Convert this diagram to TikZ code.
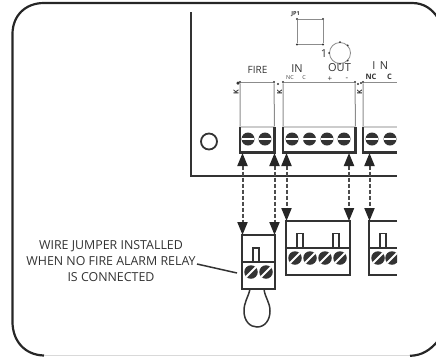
\documentclass[tikz,border=0pt]{standalone}
\usepackage{fontspec}
\setmainfont{Open Sans}
\usepackage{tikz}
\usetikzlibrary{arrows.meta}
\tikzset{
  hscrew/.style={circle,fill=black!80,inner sep=0pt,minimum size=13pt,
    path picture={\draw[white,line width=1.2pt] (path picture bounding box.west) -- (path picture bounding box.east);}},
  dscrew/.style={circle,fill=black!80,inner sep=0pt,minimum size=13.5pt,
    path picture={\draw[white,line width=1.8pt] (path picture bounding box.south west) -- (path picture bounding box.north east);}},
  dotpin/.style={circle,fill=black!80,inner sep=0pt,minimum size=2.4pt},
  wire/.style={draw=black!45,line width=1pt},
  plug/.style={draw=black!80,line width=2.2pt},
  tinylbl/.style={font=\fontsize{5.5}{5.5}\selectfont,text=black!75,inner sep=0pt},
  boldlbl/.style={font=\bfseries\fontsize{5.5}{5.5}\selectfont,text=black!80,inner sep=0pt},
  lbl/.style={font=\fontsize{11}{11}\selectfont,text=black!80,inner sep=0pt},
  link/.style={black!70,line width=2pt,dash pattern=on 4pt off 2pt,
    {Triangle[length=13pt,width=10pt,black!85]}-{Triangle[length=13pt,width=10pt,black!85]}}
}
\begin{document}
\begin{tikzpicture}[x=1pt,y=-1pt]
\useasboundingbox (0,0) rectangle (436,357);
\clip (0,0) rectangle (436,357);
% outer frame
\draw[black!85,line width=2.2pt] (44,355.5) .. controls (24,355) and (12.5,340) .. (12.5,322) -- (12.5,34) .. controls (12.5,16) and (25,3) .. (44,3) -- (412,3) .. controls (424,3) and (432,9) .. (438,18);
\draw[black!15,line width=1pt] (44,355.8) -- (410,355.8);
\draw[black!85,line width=2.2pt] (410,355.8) .. controls (422,355.5) and (430,350) .. (437,342);
% board
\coordinate (b1) at (191,12);
\coordinate (b2) at (191,175.5);
\coordinate (b3) at (397,175.5);
\draw[black!80,line width=2pt] (b1) -- (b2) -- (b3);
\node[circle,draw=black!80,line width=1.8pt,minimum size=16pt,inner sep=0pt] (hole) at (209,141.5) {};
% jumper square and ring
\node[dotpin] (q1) at (297,19) {};
\node[dotpin] (q2) at (323,19) {};
\node[dotpin] (q3) at (323,44.5) {};
\node[dotpin] (q4) at (297,44.5) {};
\draw[wire] (q1) -- (q2) -- (q3) -- (q4) -- (q1);
\node[circle,draw=black!45,line width=0.8pt,minimum size=21pt,inner sep=0pt] (ring) at (340,53) {};
\node[dotpin,minimum size=2pt] (r1) at (ring.west) {};
\node[dotpin,minimum size=2pt] (r2) at (ring.north) {};
\node[dotpin,minimum size=2pt] (r3) at (ring.south) {};
\node[dotpin,minimum size=2pt] (r4) at (ring.north east) {};
\node[dotpin,minimum size=2pt] (r5) at (ring.south east) {};
\node[boldlbl] (jp) at (295.5,14.5) {JP1};
\node[lbl] (one) at (324,54) {1};
% board labels
\node[lbl,font=\fontsize{10}{10}\selectfont] (fire) at (257.5,70) {FIRE};
\node[lbl] (in) at (297,69) {IN};
\node[lbl] (out) at (339.5,68) {OUT};
\node[tinylbl] (nc) at (290,77.5) {NC};
\node[tinylbl] (c) at (304,77.5) {C};
\node[lbl,font=\fontsize{8}{8}\selectfont] (plus) at (330,79) {+};
\node[lbl,font=\fontsize{8}{8}\selectfont] (minus) at (347,79) {-};
\node[boldlbl,font=\bfseries\fontsize{7.5}{7.5}\selectfont] (nc2) at (371,77) {NC};
\node[boldlbl,font=\bfseries\fontsize{7.5}{7.5}\selectfont] (c2) at (389.5,77) {C};
\node[lbl] (i2) at (374,66) {I};
\node[lbl] (n2) at (384,66) {N};
% header outlines
\node[dotpin] (f1) at (240,82) {};
\node[dotpin] (f2) at (274,82) {};
\node[dotpin] (f3) at (283,82) {};
\node[dotpin] (f4) at (355,82) {};
\node[dotpin] (f5) at (363,82) {};
\coordinate (f6) at (397,82);
\draw[wire] (f1) -- (f2) (f3) -- (f4) (f5) -- (f6);
\node[boldlbl,rotate=90,font=\bfseries\fontsize{7}{7}\selectfont] (k1) at (236,92) {K};
\node[boldlbl,rotate=90,font=\bfseries\fontsize{7}{7}\selectfont] (k2) at (279.5,92) {K};
\node[boldlbl,rotate=90,font=\bfseries\fontsize{7}{7}\selectfont] (k3) at (359.5,92) {K};
\node[dotpin,minimum size=3.5pt] (d1) at (238,83) {};
\node[dotpin] (d2) at (278,84) {};
\node[dotpin] (d3) at (358,84) {};
\node[dotpin] (d4) at (361,83) {};
% terminal blocks on the board
\coordinate (t1a) at (240,127);
\coordinate (t1b) at (240,152.5);
\coordinate (t1c) at (274.5,152.5);
\coordinate (t1d) at (274.5,127);
\coordinate (t2a) at (283,127);
\coordinate (t2b) at (283,152.5);
\coordinate (t2c) at (355.5,152.5);
\coordinate (t2d) at (355.5,127);
\coordinate (t3a) at (363,127);
\coordinate (t3b) at (363,152.5);
\coordinate (t3c) at (397,152.5);
\coordinate (t3d) at (397,127);
\draw[wire] (f1) -- (t1a) (f2) -- (t1d) (f3) -- (t2a) (f4) -- (t2d) (f5) -- (t3a);
\draw[black!20,line width=1.4pt] (t1a) -- (t1d) (t2a) -- (t2d) (t3a) -- (t3d);
\draw[plug] (t1a) -- (t1b) -- (t1c) -- (t1d);
\draw[plug] (t2a) -- (t2b) -- (t2c) -- (t2d);
\draw[plug] (t3a) -- (t3b) -- (t3c);
\begin{scope}
\clip (230,120) rectangle (397,160);
\node[hscrew] (s1) at (248,139) {};
\node[hscrew] (s2) at (265,139) {};
\node[hscrew] (s3) at (292,139) {};
\node[hscrew] (s4) at (309.5,139) {};
\node[hscrew] (s5) at (327,139) {};
\node[hscrew] (s6) at (344,139) {};
\node[hscrew] (s7) at (372,139) {};
\node[hscrew] (s8) at (390,139) {};
\end{scope}
% jumper plug
\node[draw=black!80,line width=2.2pt,minimum width=33pt,minimum height=54pt,inner sep=0pt] (p1) at (258.5,262) {};
\draw[plug] (p1.west) -- (p1.east);
\draw[black!80,line width=1.5pt] (253,262) -- (253,248) -- (259,248) -- (259,262);
\node[dscrew] (u1) at (251,272) {};
\node[dscrew] (u2) at (266,272) {};
\draw[black!80,line width=1.5pt] (250,289) .. controls (248,298) and (244,302) .. (244,311) .. controls (244,321) and (250,327) .. (257,327) .. controls (265,327) and (270,320) .. (270,311) .. controls (270,302) and (265,298) .. (264,289);
% middle plug
\node[draw=black!80,line width=2.2pt,minimum width=64pt,minimum height=54pt,inner sep=0pt] (p2) at (318,248) {};
\draw[plug] (p2.west) -- (p2.east);
\draw[black!80,line width=1.5pt] (297,248) -- (297,233.5) -- (303,233.5) -- (303,248);
\draw[black!80,line width=1.5pt] (333,248) -- (333,233.5) -- (339,233.5) -- (339,248);
\node[dscrew] (v1) at (295,258) {};
\node[dscrew] (v2) at (310,258) {};
\node[dscrew] (v3) at (325,258) {};
\node[dscrew] (v4) at (340,258) {};
% right plug, cut off
\begin{scope}
\clip (360,200) rectangle (397,290);
\draw[plug] (397,221) -- (369,221) -- (369,275) -- (397,275);
\draw[plug] (369,248) -- (397,248);
\draw[black!80,line width=1.5pt] (380,248) -- (380,233.5) -- (386,233.5) -- (386,248);
\node[dscrew] (w1) at (378,258) {};
\node[dscrew] (w2) at (392,258) {};
\end{scope}
% dashed links
\coordinate (a1) at (242.5,153);
\coordinate (a2) at (274.5,153);
\coordinate (a3) at (286.5,153);
\coordinate (a4) at (349,153);
\coordinate (a5) at (369.5,153);
\coordinate (e1) at (242.5,235);
\coordinate (e2) at (274.5,235);
\coordinate (e3) at (286.5,221);
\coordinate (e4) at (349,221);
\coordinate (e5) at (369.5,221);
\draw[link] (a1) -- (e1);
\draw[link] (a2) -- (e2);
\draw[link] (a3) -- (e3);
\draw[link] (a4) -- (e4);
\draw[link] (a5) -- (e5);
% callout
\node[align=center,font=\fontsize{12.4}{16}\selectfont,text=black!80,inner sep=0pt] (note) at (111,261) {WIRE JUMPER INSTALLED\\WHEN NO FIRE ALARM RELAY\\IS CONNECTED};
\coordinate (n1) at (197,264);
\coordinate (n2) at (237,273);
\draw[black!80,line width=1.5pt] (n1) -- (n2);
\end{tikzpicture}
\end{document}
